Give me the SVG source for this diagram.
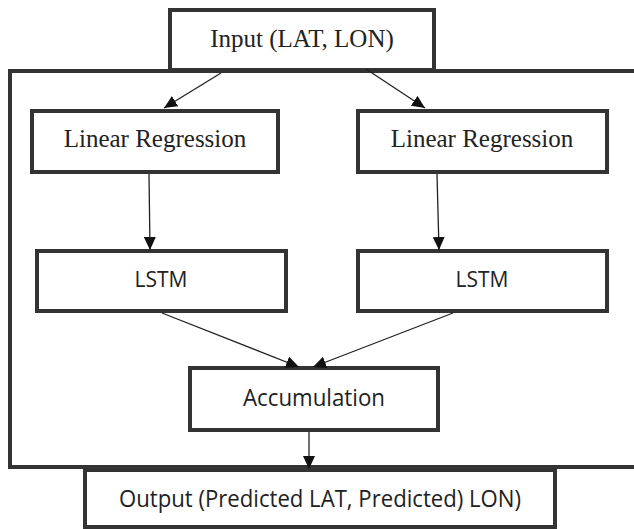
<svg xmlns="http://www.w3.org/2000/svg" width="634" height="529" viewBox="0 0 634 529">
  <style>
    .box { fill: #fff; stroke: #333; stroke-width: 4; }
    .frame { fill: none; stroke: #333; stroke-width: 4; }
    .serif { font-family: "Liberation Serif", "Times New Roman", serif; font-size: 25px; fill: #222; text-anchor: middle; }
    .sans { font-family: "Open Sans", "Noto Sans", sans-serif; fill: #222; text-anchor: middle; }
    .edge { stroke: #222; stroke-width: 1.3; fill: none; marker-end: url(#arrow); }
  </style>
  <defs>
    <marker id="arrow" markerUnits="userSpaceOnUse" markerWidth="14" markerHeight="12" refX="13" refY="6" orient="auto">
      <path d="M0,0 L13,6 L0,12 Z" fill="#111"/>
    </marker>
  </defs>
  <rect width="634" height="529" fill="#fff"/>

  <!-- enclosing frame, open past the right edge -->
  <rect class="frame" x="10" y="71" width="640" height="396"/>

  <g id="input">
    <rect class="box" x="170" y="10" width="264" height="60"/>
    <text class="serif" x="302" y="47">Input (LAT, LON)</text>
  </g>

  <g id="lr-left">
    <rect class="box" x="32" y="111" width="246" height="61"/>
    <text class="serif" x="155" y="147">Linear Regression</text>
  </g>
  <g id="lr-right">
    <rect class="box" x="358" y="111" width="249" height="61"/>
    <text class="serif" x="482" y="147">Linear Regression</text>
  </g>

  <g id="lstm-left">
    <rect class="box" x="37" y="251" width="249" height="60"/>
    <text class="sans" x="161" y="287" font-size="21">LSTM</text>
  </g>
  <g id="lstm-right">
    <rect class="box" x="358" y="251" width="249" height="60"/>
    <text class="sans" x="482" y="287" font-size="21">LSTM</text>
  </g>

  <g id="accumulation">
    <rect class="box" x="190" y="368" width="248" height="62"/>
    <text class="sans" x="314" y="406" font-size="23" textLength="142" lengthAdjust="spacingAndGlyphs">Accumulation</text>
  </g>

  <g id="output">
    <rect class="box" x="85" y="470" width="470" height="57"/>
    <text class="sans" x="320" y="507" font-size="23" textLength="402" lengthAdjust="spacingAndGlyphs">Output (Predicted LAT, Predicted) LON)</text>
  </g>

  <g id="connectors">
    <line class="edge" x1="221" y1="73" x2="164" y2="108"/>
    <line class="edge" x1="366" y1="69" x2="425" y2="108"/>
    <line class="edge" x1="149" y1="174" x2="150" y2="250"/>
    <line class="edge" x1="437" y1="174" x2="439" y2="250"/>
    <line class="edge" x1="162" y1="313" x2="299" y2="367"/>
    <line class="edge" x1="453" y1="313" x2="313" y2="367"/>
    <line class="edge" x1="309" y1="432" x2="309" y2="469"/>
  </g>
</svg>
